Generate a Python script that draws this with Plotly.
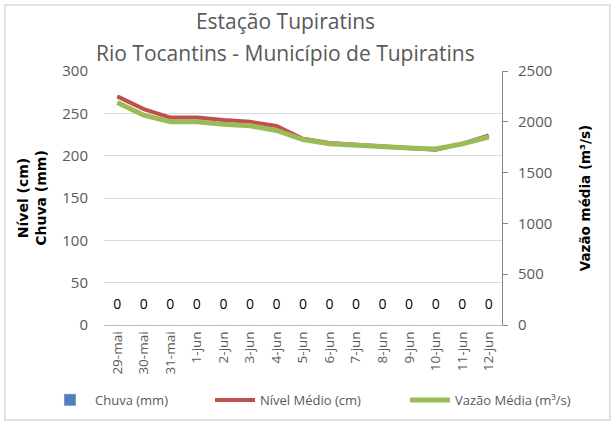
import plotly.graph_objects as go

datas = ['29-mai', '30-mai', '31-mai', '1-jun', '2-jun', '3-jun', '4-jun', '5-jun',
         '6-jun', '7-jun', '8-jun', '9-jun', '10-jun', '11-jun', '12-jun']
chuva = [0, 0, 0, 0, 0, 0, 0, 0, 0, 0, 0, 0, 0, 0, 0]
nivel = [270, 255, 245, 245, 242, 240, 235, 220, 215, 213, 212, 210, 207, 214, 224]
vazao = [2190, 2065, 2000, 2000, 1975, 1960, 1915, 1825, 1785, 1768, 1758, 1742, 1733, 1783, 1850]

cinza = '#595959'
fonte = 'Open Sans, sans-serif'

fig = go.Figure()
fig.add_trace(go.Bar(x=datas, y=chuva, name='Chuva (mm)', marker_color='#4F81BD', legend='legend'))
# rótulos de dados da chuva
fig.add_trace(go.Scatter(x=datas, y=chuva, mode='markers+text', text=[str(v) for v in chuva],
                         textposition='top center', showlegend=False, hoverinfo='skip',
                         marker=dict(size=18, opacity=0),
                         textfont=dict(size=14, color='black', family=fonte)))
fig.add_trace(go.Scatter(x=datas, y=nivel, mode='lines', name='Nível Médio (cm)',
                         line=dict(color='#C0504D', width=4), legend='legend2'))
fig.add_trace(go.Scatter(x=datas, y=vazao, mode='lines', name='Vazão Média (m³/s)',
                         line=dict(color='#9BBB59', width=5), yaxis='y2', legend='legend3'))

leg = dict(orientation='h', y=-0.295, yanchor='middle', xanchor='left',
           font=dict(size=13, color=cinza), itemwidth=40, bgcolor='rgba(0,0,0,0)')

fig.update_layout(
    width=616, height=424,
    margin=dict(l=104, r=114, t=71, b=99, autoexpand=False),
    paper_bgcolor='white', plot_bgcolor='white',
    font=dict(family=fonte, color=cinza, size=14),
    title=dict(text='Estação Tupiratins', x=0.4635, xanchor='center',
               y=1 - 22 / 424, yanchor='middle', font=dict(size=21, color=cinza)),
    annotations=[dict(text='Rio Tocantins - Município de Tupiratins', xref='paper', yref='paper',
                      x=(285.5 - 104) / 398, y=(325 - 53) / 254, xanchor='center', yanchor='middle',
                      showarrow=False, font=dict(size=21, color=cinza))],
    xaxis=dict(tickangle=-90, showline=True, linecolor='#bfbfbf', ticks='', automargin=False,
               range=[-0.5, 14.5], tickfont=dict(size=13.5, color=cinza)),
    yaxis=dict(range=[0, 300], dtick=50, gridcolor='#d9d9d9', zeroline=False, automargin=False,
               showline=False, ticks='', ticklabelstandoff=15, tickfont=dict(size=15, color=cinza),
               title=dict(text='<b>Nível (cm)<br>Chuva (mm)</b>',
                          font=dict(size=14, color='black', family='DejaVu Sans'), standoff=12)),
    yaxis2=dict(range=[0, 2500], dtick=500, overlaying='y', side='right', automargin=False,
                showgrid=False, zeroline=False, showline=True, linecolor='#868686',
                ticks='outside', ticklen=5, tickcolor='#868686', ticklabelstandoff=7,
                tickfont=dict(size=15, color=cinza),
                title=dict(text='<b>Vazão média (m³/s)</b>',
                           font=dict(size=13.5, color='black', family='DejaVu Sans'), standoff=29)),
    legend=dict(leg, x=(45 - 104) / 398),
    legend2=dict(leg, x=(210 - 104) / 398),
    legend3=dict(leg, x=(405 - 104) / 398),
    shapes=[dict(type='rect', xref='paper', yref='paper', x0=-0.249, x1=1.271, y0=-0.374, y1=1.26,
                 line=dict(color='#d9d9d9', width=1.5))],
    bargap=0.5,
)

fig.write_html('out.html', config={'displayModeBar': False},
               post_script="document.body.style.margin='0';")
